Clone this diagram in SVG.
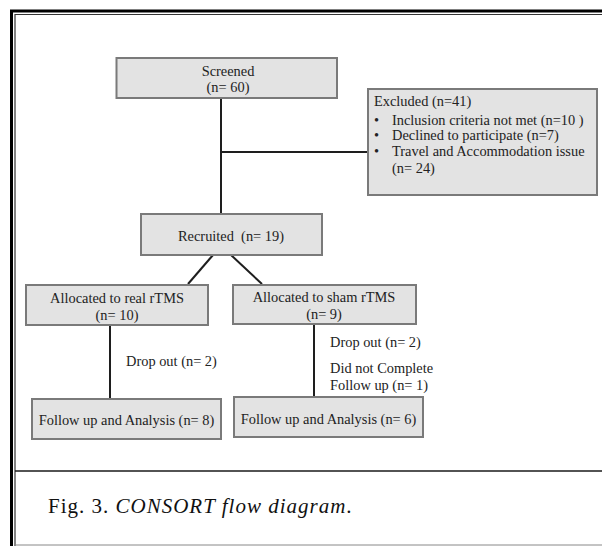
<svg xmlns="http://www.w3.org/2000/svg" width="602" height="546" viewBox="0 0 602 546">
<style>
.box{fill:#e3e3e3;stroke:#7a7a7a;stroke-width:2}
.t{font-family:"Liberation Serif","Times New Roman",serif;font-size:14.4px;fill:#222}
.c{text-anchor:middle}
.ln{stroke:#1e1e1e;stroke-width:2;fill:none}
.cap{font-family:"Liberation Serif","Times New Roman",serif;font-size:21px;fill:#111;letter-spacing:1px}
</style>
<rect width="602" height="546" fill="#ffffff"/>
<g id="frame" fill="none">
<path d="M602 11 H11.5 V546" stroke="#000" stroke-width="3"/>
<path d="M602 14.5 H15 V546" stroke="#333" stroke-width="1.2"/>
<path d="M15 545 H602" stroke="#888" stroke-width="1"/>
<path d="M15 471 H602" stroke="#1a1a1a" stroke-width="1.5"/>
</g>
<g id="connectors" class="ln">
<path d="M221 98 V214"/>
<path d="M221 152 H368"/>
<path d="M213 255 L188 284"/>
<path d="M231 255 L262 284"/>
<path d="M110 325 V399"/>
<path d="M314 324 V397"/>
</g>
<g id="screened">
<rect class="box" x="116.5" y="58" width="220.5" height="40"/>
<text class="t c" x="228" y="75.5">Screened</text>
<text class="t c" x="228" y="92">(n= 60)</text>
</g>
<g id="excluded">
<rect class="box" x="368" y="89" width="229" height="106"/>
<text class="t" x="374" y="105.5">Excluded (n=41)</text>
<text class="t" x="374" y="125">•</text>
<text class="t" x="392" y="125">Inclusion criteria not met (n=10 )</text>
<text class="t" x="374" y="140">•</text>
<text class="t" x="392" y="140">Declined to participate (n=7)</text>
<text class="t" x="374" y="155.5">•</text>
<text class="t" x="392" y="155.5">Travel and Accommodation issue</text>
<text class="t" x="392" y="172.5">(n= 24)</text>
</g>
<g id="recruited">
<rect class="box" x="141" y="214" width="181" height="41"/>
<text class="t c" x="231" y="240.5">Recruited &#160;(n= 19)</text>
</g>
<g id="real">
<rect class="box" x="26" y="285" width="182" height="40"/>
<text class="t c" x="117" y="302.5">Allocated to real rTMS</text>
<text class="t c" x="117" y="320">(n= 10)</text>
</g>
<g id="sham">
<rect class="box" x="233" y="285" width="183" height="39"/>
<text class="t c" x="324" y="301.5">Allocated to sham rTMS</text>
<text class="t c" x="324" y="318.5">(n= 9)</text>
</g>
<g id="labels">
<text class="t" x="126" y="365.5">Drop out (n= 2)</text>
<text class="t" x="330" y="346.5">Drop out (n= 2)</text>
<text class="t" x="330" y="372.5">Did not Complete</text>
<text class="t" x="330" y="389.5">Follow up (n= 1)</text>
</g>
<g id="followReal">
<rect class="box" x="32" y="399" width="189" height="40"/>
<text class="t c" x="126.5" y="424.5">Follow up and Analysis (n= 8)</text>
</g>
<g id="followSham">
<rect class="box" x="234" y="397" width="189" height="40"/>
<text class="t c" x="328.5" y="423.5">Follow up and Analysis (n= 6)</text>
</g>
<g id="caption">
<text class="cap" x="48" y="513">Fig. 3. <tspan font-style="italic">CONSORT flow diagram</tspan>.</text>
</g>
</svg>
